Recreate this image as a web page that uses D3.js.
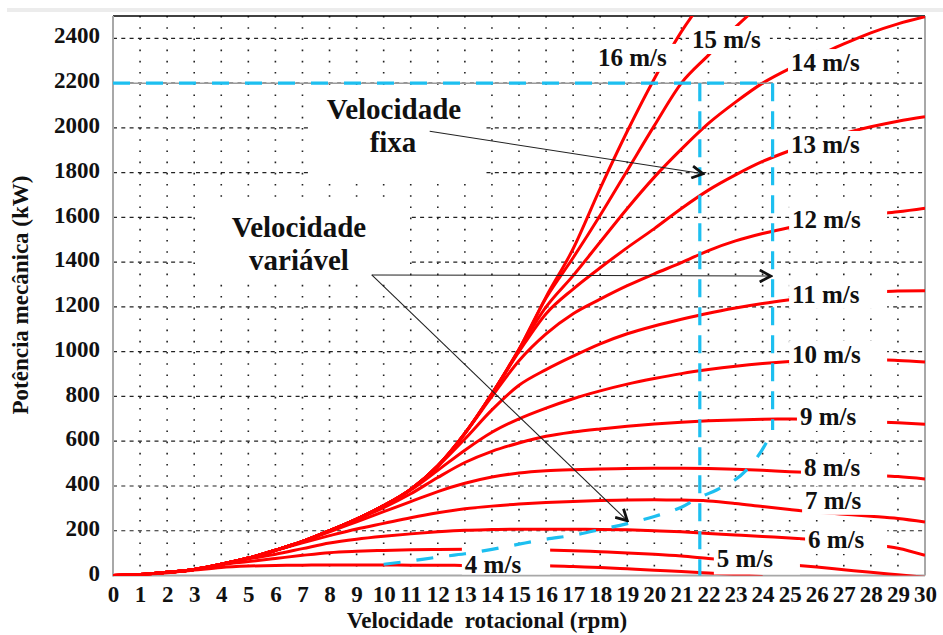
<!DOCTYPE html>
<html>
<head>
<meta charset="utf-8">
<script src="https://cdn.jsdelivr.net/npm/d3@7"></script>
<style>
  body { margin: 0; background: #fff; }
  text { font-family: "Liberation Serif", "Times New Roman", serif; font-weight: bold; fill: #111; }
</style>
</head>
<body>
<div id="chart"></div>
<script>
// rotor speed (rpm) where each curve was read
var rpm = [0, 1, 2, 3, 4, 5, 6, 7, 8, 9, 10, 11, 12, 13, 14, 15, 16, 17, 18, 19, 20,
           21, 22, 23, 24, 25, 26, 27, 28, 29, 30];

// mechanical power (kW) for each wind speed
var p4  = [0, 4, 12, 24, 36, 42, 45, 46, 47, 47, 47, 46, 46, 45, 45, 44, 44, 40, 36, 30, 24,
           18, 11, 4, -5, null, null, null, null, null, null];
var p5  = [0, 4, 14, 27, 48, 62, 76, 90, 102, 108, 112, 115, 116, 117, 117, 116, 114, 111, 106, 101, 95,
           87, 76, 66, 57, 48, 38, 26, 14, 3, -8];
var p6  = [0, 4, 14, 27, 50, 74, 95, 120, 145, 162, 175, 186, 195, 202, 205, 207, 207, 207, 206, 204, 200,
           195, 188, 181, 174, 168, 160, 150, 138, 122, 90];
var p7  = [0, 4, 14, 27, 50, 78, 112, 146, 178, 208, 233, 258, 280, 298, 310, 319, 326, 331, 335, 337, 338,
           337, 333, 322, 308, 295, 283, 274, 265, 255, 239];
var p8  = [0, 4, 14, 27, 50, 78, 113, 152, 195, 240, 285, 330, 375, 412, 440, 458, 468, 473, 476, 478, 479,
           479, 478, 475, 470, 464, 460, 455, 448, 442, 431];
var p9  = [0, 4, 14, 27, 50, 78, 113, 152, 200, 250, 303, 365, 438, 505, 555, 592, 622, 641, 655, 667, 677,
           685, 691, 695, 698, 699, 698, 694, 688, 682, 676];
var p10 = [0, 4, 14, 27, 50, 78, 113, 152, 200, 252, 312, 382, 470, 560, 640, 700, 748, 790, 825, 855, 880,
           902, 920, 935, 947, 956, 962, 965, 965, 961, 954];
var p11 = [0, 4, 14, 27, 50, 78, 113, 152, 200, 252, 312, 385, 488, 610, 740, 850, 920, 980, 1035, 1080, 1115,
           1145, 1172, 1195, 1215, 1232, 1247, 1258, 1266, 1271, 1272];
var p12 = [0, 4, 14, 27, 50, 78, 113, 152, 200, 252, 312, 385, 490, 635, 800, 960, 1080, 1170, 1235, 1295, 1348,
           1398, 1452, 1495, 1528, 1555, 1578, 1597, 1612, 1625, 1641];
var p13 = [0, 4, 14, 27, 50, 78, 113, 152, 200, 252, 312, 385, 490, 635, 812, 1000, 1170, 1280, 1375, 1465, 1550,
           1640, 1722, 1790, 1850, 1898, 1940, 1975, 2005, 2030, 2050];
var p14 = [0, 4, 14, 27, 50, 78, 113, 152, 200, 252, 312, 385, 490, 635, 812, 1010, 1200, 1340, 1490, 1640, 1780,
           1905, 2020, 2115, 2200, 2265, 2320, 2375, 2425, 2465, 2497];
var p15 = [0, 4, 14, 27, 50, 78, 113, 152, 200, 252, 312, 385, 490, 635, 812, 1010, 1240, 1420, 1610, 1810, 2010,
           2200, 2325, 2450, 2560, null, null, null, null, null, null];
var p16 = [0, 4, 14, 27, 50, 78, 113, 152, 200, 252, 312, 385, 490, 635, 812, 1010, 1245, 1460, 1730, 1985, 2220,
           2430, 2600, null, null, null, null, null, null, null, null];

var speeds = [4, 5, 6, 7, 8, 9, 10, 11, 12, 13, 14, 15, 16];
var series = [p4, p5, p6, p7, p8, p9, p10, p11, p12, p13, p14, p15, p16];

// where each "x m/s" label sits (rpm, kW of baseline start) and where its white box ends (rpm)
var labelRpm = [13.0, 22.31, 25.68, 25.57, 25.53, 25.38, 25.09, 25.09, 25.09, 25.05, 25.05, 21.39, 17.92];
var labelKw  = [11, 38, 123, 298, 445, 673, 950, 1218, 1553, 1888, 2254, 2357, 2277];
var labelEnd = [16.15, 25.38, 28.6, 28.6, 28.6, 28.6, 28.6, 28.6, 28.6, 28.6, 28.6, 24.27, 20.8];

// variable speed operating curve (blue dashed)
var varRpm = [10, 11, 12, 13, 14, 15, 16, 17, 18, 19, 20, 21, 21.68, 22.3, 23.4, 24.1, 24.37];
var varKw  = [50, 65, 82, 97, 117, 140, 162, 180, 205, 232, 264, 305, 350, 382, 471, 585, 650];
var fixedRpm = 21.68, maxRpm = 24.37, ratedKw = 2200;

var yTicks = [0, 200, 400, 600, 800, 1000, 1200, 1400, 1600, 1800, 2000, 2200, 2400];

var red = "#ff0000", blue = "#1dbff0";

var svg = d3.select("#chart").append("svg").attr("width", 943).attr("height", 635);

var x = d3.scaleLinear().domain([0, 30]).range([113, 925]);
var y = d3.scaleLinear().domain([0, 2500]).range([575.5, 16]);

var defs = svg.append("defs");
defs.append("clipPath").attr("id", "plot").append("rect")
  .attr("x", x(0)).attr("y", y(2500)).attr("width", x(30) - x(0)).attr("height", y(0) - y(2500));
defs.append("marker").attr("id", "chev").attr("viewBox", "0 0 14 14")
  .attr("refX", 12).attr("refY", 7).attr("markerWidth", 14).attr("markerHeight", 14)
  .attr("markerUnits", "userSpaceOnUse").attr("orient", "auto")
  .append("path").attr("d", "M1,1 L12,7 L1,13").attr("fill", "none")
  .attr("stroke", "#111").attr("stroke-width", 2.8);

// faint strip at the top of the picture
svg.append("rect").attr("x", 7).attr("y", 8).attr("width", 936).attr("height", 4).attr("fill", "#ececec");

// grid
var grid = svg.append("g");
grid.selectAll("line.h").data(yTicks.slice(1)).enter().append("line")
  .attr("x1", x(0)).attr("x2", x(30)).attr("y1", d => y(d)).attr("y2", d => y(d))
  .attr("stroke", "#222").attr("stroke-width", 1.2).attr("stroke-dasharray", "4,4.3");
grid.selectAll("line.v").data(rpm.slice(1, 30)).enter().append("line")
  .attr("x1", d => x(d)).attr("x2", d => x(d)).attr("y1", y(2500)).attr("y2", y(0))
  .attr("stroke", "#222").attr("stroke-width", 1.6).attr("stroke-dasharray", "1.6,9.6");

// white boxes behind the two annotations
svg.append("rect").attr("x", 310).attr("y", 88).attr("width", 175).attr("height", 94).attr("fill", "#fff");
svg.append("rect").attr("x", 196).attr("y", 203).attr("width", 214).attr("height", 78).attr("fill", "#fff");

// frame
svg.append("line").attr("x1", x(0)).attr("x2", x(30)).attr("y1", y(2500)).attr("y2", y(2500))
  .attr("stroke", "#000").attr("stroke-width", 1.5);
svg.append("line").attr("x1", x(30)).attr("x2", x(30)).attr("y1", y(2500)).attr("y2", y(0))
  .attr("stroke", "#a8a8a8").attr("stroke-width", 2);
svg.append("line").attr("x1", x(0)).attr("x2", x(0)).attr("y1", y(2500)).attr("y2", y(0) + 1)
  .attr("stroke", "#a8a8a8").attr("stroke-width", 2);
svg.append("line").attr("x1", x(0)).attr("x2", x(30)).attr("y1", y(0)).attr("y2", y(0))
  .attr("stroke", "#a8a8a8").attr("stroke-width", 2);

// power curves
var line = d3.line()
  .defined(d => d[1] != null)
  .x(d => x(d[0])).y(d => y(d[1]))
  .curve(d3.curveMonotoneX);

var curves = svg.append("g").attr("clip-path", "url(#plot)");
series.forEach(function(s) {
  curves.append("path")
    .datum(rpm.map((r, j) => [r, s[j]]))
    .attr("d", line)
    .attr("fill", "none").attr("stroke", red).attr("stroke-width", 3);
});

// wind speed labels with white boxes
var labs = svg.append("g");
speeds.forEach(function(v, i) {
  var lx = x(labelRpm[i]), ly = y(labelKw[i]);
  var bottom = (v <= 5) ? y(0) - 1 : ly + 6;
  var top = (v <= 5) ? ly - 27 : ly - 22;
  labs.append("rect").attr("x", lx - 3).attr("y", top)
    .attr("width", x(labelEnd[i]) - lx + 3).attr("height", bottom - top).attr("fill", "#fff");
  labs.append("text").attr("x", lx).attr("y", ly).style("font-size", "25px").text(v + " m/s");
});

// rated power and speed limits (blue dashed)
svg.append("line").attr("x1", x(0)).attr("x2", x(maxRpm)).attr("y1", y(ratedKw)).attr("y2", y(ratedKw))
  .attr("stroke", "#9a9a9a").attr("stroke-width", 1.5);
var b = svg.append("g").attr("fill", "none").attr("stroke", blue).attr("stroke-width", 3.2);
b.append("line").attr("x1", x(0)).attr("x2", x(maxRpm)).attr("y1", y(ratedKw)).attr("y2", y(ratedKw))
  .attr("stroke-dasharray", "17,16");
b.append("line").attr("x1", x(fixedRpm)).attr("x2", x(fixedRpm)).attr("y1", y(ratedKw)).attr("y2", y(0))
  .attr("stroke-dasharray", "18,10");
b.append("line").attr("x1", x(maxRpm)).attr("x2", x(maxRpm)).attr("y1", y(ratedKw)).attr("y2", y(varKw[varKw.length - 1]))
  .attr("stroke-dasharray", "18,10");
b.append("path")
  .datum(varRpm.map((r, j) => [r, varKw[j]]))
  .attr("d", d3.line().x(d => x(d[0])).y(d => y(d[1])).curve(d3.curveMonotoneX))
  .attr("stroke-dasharray", "17,16");

// arrows
var arrows = [
  [[11.7, 1985], [21.8, 1795]],
  [[9.56, 1343], [24.3, 1338]],
  [[9.56, 1343], [19.0, 245]]
];
svg.append("g").selectAll("line").data(arrows).enter().append("line")
  .attr("x1", d => x(d[0][0])).attr("y1", d => y(d[0][1]))
  .attr("x2", d => x(d[1][0])).attr("y2", d => y(d[1][1]))
  .attr("stroke", "#222").attr("stroke-width", 1.1).attr("marker-end", "url(#chev)");

// annotation texts
var ann = svg.append("g").attr("text-anchor", "middle").style("font-size", "29px");
ann.append("text").attr("x", 394).attr("y", 119).text("Velocidade");
ann.append("text").attr("x", 393).attr("y", 152).text("fixa");
ann.append("text").attr("x", 299).attr("y", 237).text("Velocidade");
ann.append("text").attr("x", 299).attr("y", 270).text("variável");

// axes
var yAxis = d3.axisLeft(y).tickValues(yTicks).tickFormat(d3.format("d")).tickSize(0).tickPadding(13);
svg.append("g").attr("transform", "translate(" + x(0) + ",0)").call(yAxis)
  .call(g => g.select(".domain").remove())
  .selectAll("text").attr("dy", "0.2em").style("font-size", "23px");

var xAxis = d3.axisBottom(x).tickValues(rpm).tickFormat(d3.format("d")).tickSize(0).tickPadding(10);
svg.append("g").attr("transform", "translate(0," + y(0) + ")").call(xAxis)
  .call(g => g.select(".domain").remove())
  .selectAll("text").style("font-size", "23px");

// axis titles
svg.append("text").attr("transform", "translate(28,295) rotate(-90)").attr("text-anchor", "middle")
  .style("font-size", "23px").text("Potência mecânica (kW)");
svg.append("text").attr("x", 487).attr("y", 628).attr("text-anchor", "middle")
  .style("font-size", "23px").style("white-space", "pre").text("Velocidade  rotacional (rpm)");
</script>
</body>
</html>
